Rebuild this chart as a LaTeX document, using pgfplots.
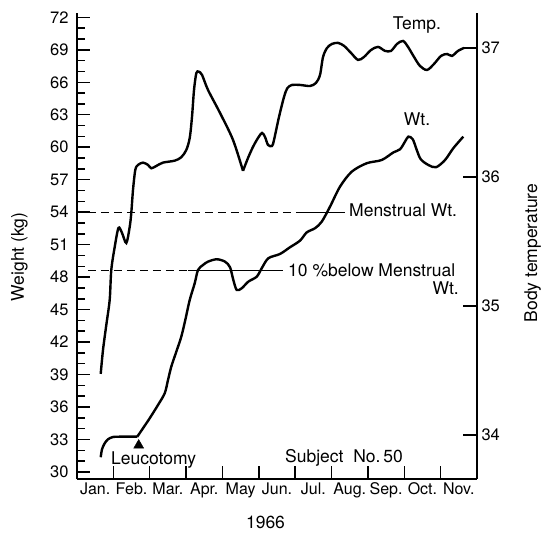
\documentclass[border=0pt]{standalone}
\usepackage{fontspec}
\setmainfont{TeX Gyre Heros}
\usepackage{pgfplots}
\pgfplotsset{compat=1.18}
\newcommand\annot{\fontsize{17.5}{20}\selectfont}
\newcommand\tickf{\fontsize{16.5}{19}\selectfont}
\newcommand\monf{\fontsize{16}{19}\selectfont}
\begin{document}
\begin{tikzpicture}
\useasboundingbox (-77pt,-54pt) rectangle (466pt,479pt);
\pgfplotsset{
  common/.style={
    scale only axis, width=400pt, height=466pt,
    xmin=0, xmax=11,
    tick style={line width=1.5pt, black},
    /pgf/number format/assume math mode=true,
    ticklabel style={font=\tickf},
    clip=false,
  },
  curve/.style={black, line width=2.4pt, smooth, no marks},
}
\begin{axis}[common,
  axis x line*=bottom, axis y line*=left,
  axis line style={-, line width=2pt},
  tick align=inside,
  ymin=29.35, ymax=72.4,
  ytick={30,33,...,72},
  minor y tick num=2,
  major tick length=13pt, minor tick length=8pt,
  xtick={1,...,10}, xticklabels={},
  extra x ticks={0.5,1.5,...,10.5},
  extra x tick labels={Jan.,Feb.,Mar.,Apr.,May,Jun.,Jul.,Aug.,Sep.,Oct.,Nov.},
  extra x tick style={tick style={draw=none}, tick label style={anchor=base, yshift=-15pt, font=\monf}},
  yticklabel style={xshift=-5pt},
]
% Weight curve, before leucotomy
\addplot[curve] coordinates {
(0.652,31.36) (0.688,32.10) (0.762,32.65) (0.853,33.02) (0.990,33.23) (1.218,33.26) (1.458,33.26) (1.658,33.26)};
% Weight curve, after leucotomy
\addplot[curve] coordinates {
(1.658,33.26) (1.815,34.04) (1.999,34.96) (2.228,36.19) (2.412,37.27) (2.503,38.50) (2.593,39.73)
(2.731,41.11) (2.868,42.50) (2.978,44.04) (3.100,45.89) (3.237,47.43) (3.328,48.66) (3.465,49.12)
(3.603,49.43) (3.842,49.65) (4.070,49.43) (4.208,48.91) (4.299,47.74) (4.392,46.81) (4.530,46.97)
(4.711,47.58) (4.942,48.04) (5.080,48.82) (5.261,49.74) (5.583,50.14) (5.858,50.76) (6.133,51.37)
(6.317,52.13) (6.546,52.52) (6.730,53.12) (6.958,54.51) (7.233,56.36) (7.555,57.74) (7.967,58.52)
(8.380,58.82) (8.699,59.52) (8.883,59.81) (9.021,60.52) (9.112,60.98) (9.233,60.74) (9.343,59.75)
(9.453,58.89) (9.662,58.36) (9.873,58.15) (10.121,58.82) (10.349,59.91) (10.624,60.98)};
% Menstrual weight line
\addplot[black, line width=1.3pt, dash pattern=on 8pt off 5pt] coordinates {(0.3,54) (6.2,54)};
\addplot[black, line width=1.3pt] coordinates {(6.2,54) (7.37,54)};
% 10% below menstrual weight
\addplot[black, line width=1.3pt, dash pattern=on 8pt off 5pt] coordinates {(0.3,48.6) (3.05,48.6)};
\addplot[black, line width=1.3pt] coordinates {(3.05,48.6) (5.67,48.6)};
% Leucotomy marker
\addplot[black, only marks, mark=triangle*, mark size=5.8pt] coordinates {(1.697,32.46)};
\end{axis}
\begin{axis}[common,
  axis x line=none, axis y line*=right,
  axis line style={-, line width=2pt},
  tick align=inside,
  ymin=33.6585, ymax=37.2707,
  ytick={34,35,36,37},
  major tick length=14pt,
  yticklabel style={xshift=1pt},
]
\addplot[curve] coordinates {
(0.652,34.473) (0.715,34.659) (0.806,34.853) (0.899,35.047) (0.943,35.279) (1.037,35.457) (1.141,35.605)
(1.238,35.566) (1.356,35.488) (1.449,35.612) (1.493,35.721) (1.540,35.899) (1.603,36.054) (1.678,36.093)
(1.815,36.111) (1.953,36.093) (2.043,36.067) (2.181,36.085) (2.365,36.111) (2.687,36.126) (2.868,36.153)
(3.006,36.209) (3.100,36.302) (3.163,36.467) (3.218,36.674) (3.281,36.804) (3.347,36.816) (3.438,36.791)
(3.603,36.674) (3.933,36.496) (4.290,36.287) (4.565,36.047)};
\addplot[curve] coordinates {
(4.565,36.047) (4.703,36.147) (4.840,36.233) (4.978,36.302) (5.088,36.341) (5.170,36.310) (5.253,36.248)
(5.363,36.240) (5.418,36.287) (5.555,36.465) (5.693,36.620) (5.784,36.688) (5.913,36.713) (6.133,36.713)
(6.408,36.705) (6.573,36.729) (6.683,36.791) (6.766,36.930) (6.876,37.000) (7.013,37.031) (7.178,37.039)
(7.343,37.016) (7.536,36.961) (7.728,36.907) (7.893,36.930) (8.086,36.984) (8.278,37.008) (8.471,36.977)
(8.636,36.977) (8.801,37.031) (8.966,37.054) (9.103,37.008) (9.268,36.930) (9.433,36.860) (9.626,36.829)
(9.818,36.876) (10.011,36.938) (10.176,36.953) (10.313,36.938) (10.478,36.977) (10.643,37.000)};
\end{axis}
\node[anchor=base, font=\annot] at (340pt,449.7pt) {Temp.};
\node[anchor=base, font=\annot] at (340pt,353pt) {Wt.};
\node[anchor=base west, font=\annot, inner sep=0pt] at (272pt,262pt) {Menstrual Wt.};
\node[anchor=base west, font=\annot, inner sep=0pt] at (211pt,202pt) {10 \%below Menstrual};
\node[anchor=base east, font=\annot, inner sep=0pt] at (382pt,184pt) {Wt.};
\node[anchor=base west, font=\annot, inner sep=0pt] at (34pt,15pt) {Leucotomy};
\node[anchor=base west, font=\annot, inner sep=0pt] at (208pt,17pt) {Subject\ \ No.\,50};
\node[anchor=base, font=\annot, inner sep=0pt] at (188.5pt,-49pt) {1966};
\node[anchor=base, font=\annot, inner sep=0pt, rotate=90] at (-53pt,222pt) {Weight (kg)};
\node[anchor=base, font=\annot, inner sep=0pt, rotate=90] at (460pt,226pt) {Body temperature};
\end{tikzpicture}
\end{document}
